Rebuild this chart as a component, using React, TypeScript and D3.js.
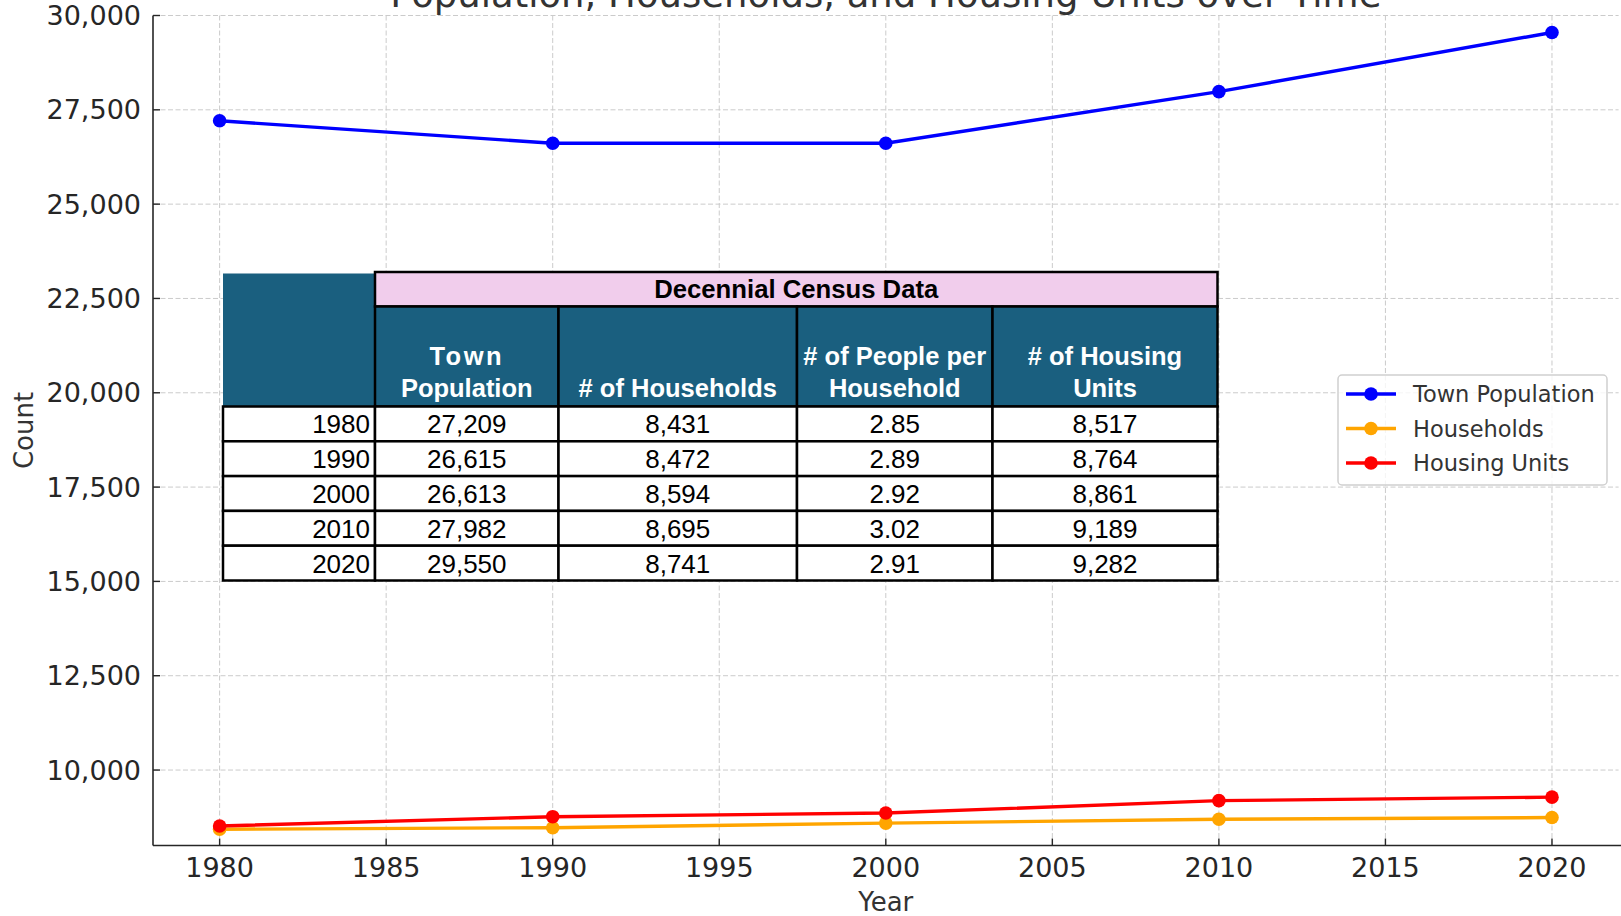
import { useRef, useEffect } from 'react';
import * as d3 from 'd3';

const years = [1980, 1990, 2000, 2010, 2020];
const townPopulation = [27209, 26615, 26613, 27982, 29550];
const households = [8431, 8472, 8594, 8695, 8741];
const peoplePerHousehold = [2.85, 2.89, 2.92, 3.02, 2.91];
const housingUnits = [8517, 8764, 8861, 9189, 9282];

const xTicks = [1980, 1985, 1990, 1995, 2000, 2005, 2010, 2015, 2020];
const yTicks = [10000, 12500, 15000, 17500, 20000, 22500, 25000, 27500, 30000];

const seriesNames = ['Town Population', 'Households', 'Housing Units'];
const seriesColors = ['#0000ff', '#ffa500', '#ff0000'];

const tableTitle = 'Decennial Census Data';
const tableHeaders = [['Town', 'Population'], ['# of Households'], ['# of People per', 'Household'], ['# of Housing', 'Units']];

const W = 1621;
const H = 916;

export default function App() {
  const svgRef = useRef<SVGSVGElement>(null);

  useEffect(() => {
    document.body.style.margin = '0';
    if (!svgRef.current) return;
    const svg = d3.select(svgRef.current);
    svg.selectAll('*').remove();

    const font = '"DejaVu Sans", sans-serif';
    const ink = '#262626';
    const margin = { top: 15.5, right: 2.4, bottom: 70.5, left: 153 };
    const x = d3.scaleLinear().domain([1978, 2022]).range([margin.left, W - margin.right]);
    const y = d3.scaleLinear().domain([8000, 30000]).range([H - margin.bottom, margin.top]);
    const [x0, x1] = x.range();
    const [y0, y1] = y.range();

    // grid
    const grid = svg.append('g').attr('stroke', '#cbcbcb').attr('stroke-width', 1).attr('stroke-dasharray', '5,2.5');
    grid.selectAll('.gx').data(xTicks).enter().append('line')
      .attr('x1', (d) => x(d)).attr('x2', (d) => x(d)).attr('y1', y0).attr('y2', y1);
    grid.selectAll('.gy').data(yTicks).enter().append('line')
      .attr('y1', (d) => y(d)).attr('y2', (d) => y(d)).attr('x1', x0).attr('x2', x1);

    // title (cropped at the top of the image, as in the source)
    svg.append('text')
      .attr('x', (x0 + x1) / 2).attr('y', 7)
      .attr('text-anchor', 'middle').attr('fill', '#333')
      .style('font-family', font).style('font-size', '37px')
      .text('Population, Households, and Housing Units over Time');

    // axes
    const axes = svg.append('g');
    axes.append('line').attr('x1', x0).attr('x2', x0).attr('y1', y0).attr('y2', y1).attr('stroke', ink).attr('stroke-width', 1.6);
    axes.append('line').attr('x1', x0).attr('x2', x1 + 3).attr('y1', y0).attr('y2', y0).attr('stroke', ink).attr('stroke-width', 1.6);

    axes.selectAll('.xt').data(xTicks).enter().append('line')
      .attr('x1', (d) => x(d)).attr('x2', (d) => x(d)).attr('y1', y0).attr('y2', y0 - 7)
      .attr('stroke', ink).attr('stroke-width', 1.4);
    axes.selectAll('.xl').data(xTicks).enter().append('text')
      .attr('x', (d) => x(d)).attr('y', y0 + 31)
      .attr('text-anchor', 'middle').attr('fill', ink)
      .style('font-family', font).style('font-size', '27px')
      .text((d) => String(d));

    axes.selectAll('.yt').data(yTicks).enter().append('line')
      .attr('y1', (d) => y(d)).attr('y2', (d) => y(d)).attr('x1', x0).attr('x2', x0 + 7)
      .attr('stroke', ink).attr('stroke-width', 1.4);
    axes.selectAll('.yl').data(yTicks).enter().append('text')
      .attr('x', x0 - 12).attr('y', (d) => y(d))
      .attr('text-anchor', 'end').attr('dominant-baseline', 'central').attr('fill', ink)
      .style('font-family', font).style('font-size', '27px')
      .text((d) => d3.format(',')(d));

    svg.append('text')
      .attr('x', (x0 + x1) / 2).attr('y', 911)
      .attr('text-anchor', 'middle').attr('fill', '#333')
      .style('font-family', font).style('font-size', '26px')
      .text('Year');
    svg.append('text')
      .attr('transform', `translate(33,${(y0 + y1) / 2}) rotate(-90)`)
      .attr('text-anchor', 'middle').attr('fill', '#333')
      .style('font-family', font).style('font-size', '26px')
      .text('Count');

    // series
    const series = [townPopulation, households, housingUnits];
    const line = d3.line<number>().x((_, i) => x(years[i])).y((d) => y(d));
    series.forEach((vals, si) => {
      const g = svg.append('g');
      g.append('path').datum(vals).attr('d', line).attr('fill', 'none')
        .attr('stroke', seriesColors[si]).attr('stroke-width', 3.4);
      g.selectAll('circle').data(vals).enter().append('circle')
        .attr('cx', (_, i) => x(years[i])).attr('cy', (d) => y(d)).attr('r', 6.8)
        .attr('fill', seriesColors[si]);
    });

    // embedded census table
    const tFont = '"Liberation Sans", Arial, sans-serif';
    const blue = '#1a5f7f';
    const pink = '#f1cdec';
    const cols = [223, 375, 558.5, 797, 992.5, 1217.5];
    const titleTop = 272;
    const headTop = 306.5;
    const headBottom = 406.5;
    const rowH = 34.8;
    const t = svg.append('g');

    t.append('rect').attr('x', cols[0]).attr('y', titleTop + 1.5).attr('width', cols[1] - cols[0]).attr('height', headBottom - titleTop - 1.5).attr('fill', blue);
    t.append('rect').attr('x', cols[1]).attr('y', titleTop).attr('width', cols[5] - cols[1]).attr('height', headTop - titleTop)
      .attr('fill', pink).attr('stroke', '#000').attr('stroke-width', 2.5);
    t.append('text')
      .attr('x', (cols[1] + cols[5]) / 2).attr('y', headTop - 8.5)
      .attr('text-anchor', 'middle').attr('fill', '#000')
      .style('font-family', tFont).style('font-size', '25.7px').style('font-weight', 'bold')
      .text(tableTitle);

    tableHeaders.forEach((lines, ci) => {
      const cx0 = cols[ci + 1];
      const cx1 = cols[ci + 2];
      t.append('rect').attr('x', cx0).attr('y', headTop).attr('width', cx1 - cx0).attr('height', headBottom - headTop)
        .attr('fill', blue).attr('stroke', '#000').attr('stroke-width', 2.5);
      lines.forEach((ln, li) => {
        t.append('text')
          .attr('x', (cx0 + cx1) / 2).attr('y', headBottom - 9.5 - (lines.length - 1 - li) * 32)
          .attr('text-anchor', 'middle').attr('fill', '#fff')
          .style('font-family', tFont).style('font-size', '25.5px').style('font-weight', 'bold')
          .style('letter-spacing', ln === 'Town' ? '2.5px' : '0px')
          .text(ln);
      });
    });

    const fmtInt = d3.format(',');
    const fmtDec = d3.format('.2f');
    years.forEach((yr, ri) => {
      const top = headBottom + ri * rowH;
      const cells = [String(yr), fmtInt(townPopulation[ri]), fmtInt(households[ri]), fmtDec(peoplePerHousehold[ri]), fmtInt(housingUnits[ri])];
      cells.forEach((txt, ci) => {
        t.append('rect').attr('x', cols[ci]).attr('y', top).attr('width', cols[ci + 1] - cols[ci]).attr('height', rowH)
          .attr('fill', '#fff').attr('stroke', '#000').attr('stroke-width', 2.5);
        t.append('text')
          .attr('x', ci === 0 ? cols[1] - 5 : (cols[ci] + cols[ci + 1]) / 2)
          .attr('y', top + rowH - 8)
          .attr('text-anchor', ci === 0 ? 'end' : 'middle').attr('fill', '#000')
          .style('font-family', tFont).style('font-size', '26px')
          .text(txt);
      });
    });

    // legend
    const lg = svg.append('g').attr('transform', 'translate(1338,375)');
    lg.append('rect').attr('width', 269).attr('height', 110).attr('rx', 4)
      .attr('fill', 'rgba(255,255,255,0.8)').attr('stroke', '#d0d0d0').attr('stroke-width', 1.5);
    seriesNames.forEach((name, i) => {
      const ly = 19 + i * 34.5;
      lg.append('line').attr('x1', 8).attr('x2', 58).attr('y1', ly).attr('y2', ly)
        .attr('stroke', seriesColors[i]).attr('stroke-width', 3.4);
      lg.append('circle').attr('cx', 33).attr('cy', ly).attr('r', 6.8).attr('fill', seriesColors[i]);
      lg.append('text').attr('x', 75).attr('y', ly)
        .attr('dominant-baseline', 'central').attr('fill', '#333')
        .style('font-family', font).style('font-size', '22.5px')
        .text(name);
    });
  }, []);

  return (
    <div style={{ width: W, height: H, background: '#fff' }}>
      <svg ref={svgRef} width={W} height={H} style={{ display: 'block' }} />
    </div>
  );
}
